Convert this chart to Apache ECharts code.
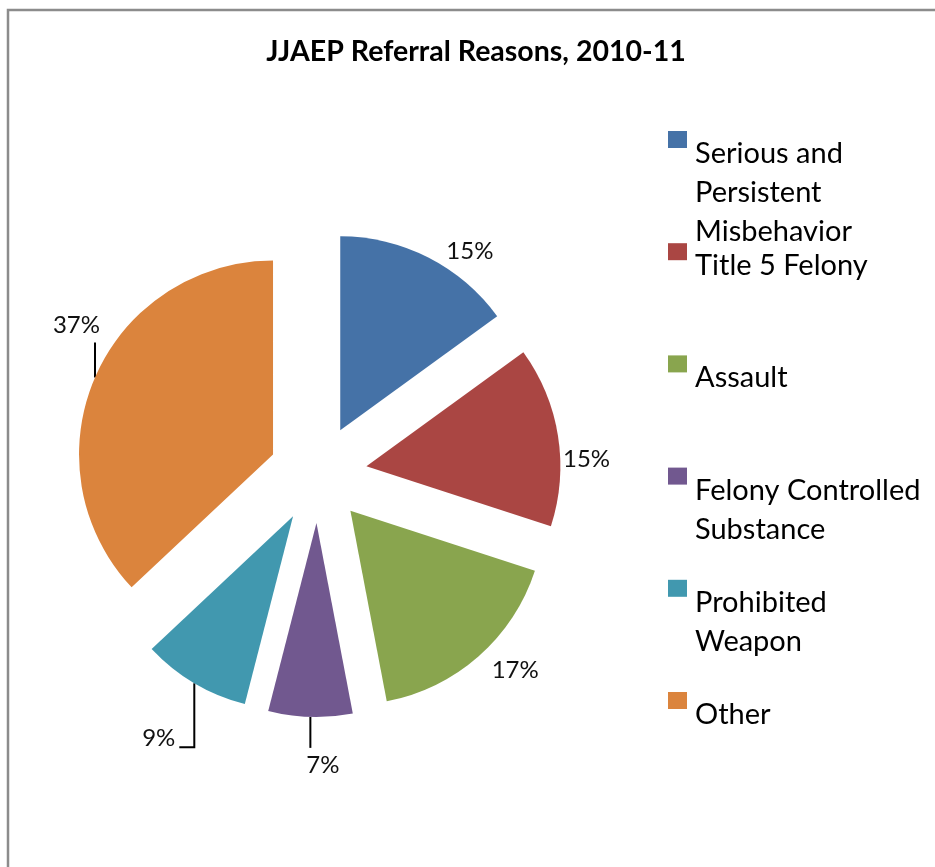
<!DOCTYPE html>
<html>
<head>
<meta charset="utf-8">
<script src="https://cdn.jsdelivr.net/npm/echarts@6/dist/echarts.min.js"></script>
<style>
  html, body { margin: 0; padding: 0; background: #fff; }
  #chart { width: 935px; height: 867px; }
</style>
</head>
<body>
<div id="chart"></div>
<script>
// data
var reasons = ['Serious and Persistent Misbehavior', 'Title 5 Felony', 'Assault',
               'Felony Controlled Substance', 'Prohibited Weapon', 'Other'];
var legendLines = [['Serious and', 'Persistent', 'Misbehavior'], ['Title 5 Felony'], ['Assault'],
                   ['Felony Controlled', 'Substance'], ['Prohibited', 'Weapon'], ['Other']];
var shares = [15, 15, 17, 7, 9, 37];

var colors = ['#4572A7', '#AA4643', '#89A54E', '#71588F', '#4198AF', '#DB843D'];
// nudge of each % label from the echarts default spot
var labelShift = [[13, -6], [0, 23], [8, 14], [34, 48], [-14, 55], [10, -52]];
// leader lines: [drop, tail], null = no line
var leader = [null, null, null, [31, 0], [64, -15], [-35, 0]];

var font = 'Lato';
var lineH = 39;

var chart = echarts.init(document.getElementById('chart'));

var pieData = reasons.map(function (name, i) {
    return {
        name: name,
        value: shares[i],
        selected: true,
        itemStyle: { color: colors[i] },
        labelLine: { show: leader[i] != null }
    };
});

// one legend per entry; a spacer line pushes the text below the marker like excel does
var legends = reasons.map(function (name, i) {
    var H = legendLines[i].length * lineH;
    var sp = H - 10.6;
    var iconCenter = 139.5 + i * 112.2;
    return {
        data: [name],
        left: 668,
        top: iconCenter - (sp + H) / 2,
        padding: 0,
        icon: 'rect',
        itemWidth: 19,
        itemHeight: 17,
        selectedMode: false,
        formatter: function (n) {
            return '{sp| }\n' + legendLines[reasons.indexOf(n)].join('\n');
        },
        textStyle: {
            fontFamily: font,
            fontSize: 29,
            lineHeight: lineH,
            color: '#000',
            padding: [0, 0, 0, 3],
            rich: {
                sp: { fontSize: 1, lineHeight: sp, height: sp }
            }
        }
    };
});

var option = {
    animation: false,
    textStyle: { fontFamily: font },
    title: {
        text: 'JJAEP Referral Reasons, 2010-11',
        left: 476,
        top: 37.5,
        textAlign: 'center',
        padding: 0,
        textStyle: { fontFamily: font, fontWeight: 'bold', fontSize: 28.5, color: '#000' }
    },
    graphic: [{
        type: 'rect',
        silent: true,
        shape: { x: 8, y: 10, width: 3000, height: 3000 },
        style: { fill: 'none', stroke: '#8c8c8c', lineWidth: 2.5 }
    }],
    legend: legends,
    series: [{
        type: 'pie',
        center: [318, 474],
        radius: 194,
        startAngle: 90,
        clockwise: true,
        selectedMode: 'multiple',
        selectedOffset: 49,
        avoidLabelOverlap: false,
        emphasis: { disabled: true },
        label: {
            show: true,
            position: 'outside',
            formatter: '{c}%',
            fontFamily: font,
            fontSize: 24,
            color: '#111'
        },
        labelLine: {
            length: 0,
            length2: 0,
            lineStyle: { color: '#000', width: 2 }
        },
        labelLayout: function (params) {
            var i = params.dataIndex;
            var out = { dx: labelShift[i][0], dy: labelShift[i][1] };
            var lp = params.labelLinePoints;
            if (leader[i] && lp) {
                var p = lp[0];
                var pts = [[p[0], p[1]], [p[0], p[1] + leader[i][0]]];
                if (leader[i][1]) pts.push([p[0] + leader[i][1], p[1] + leader[i][0]]);
                out.labelLinePoints = pts;
            }
            return out;
        },
        data: pieData
    }]
};

chart.setOption(option);
</script>
</body>
</html>
